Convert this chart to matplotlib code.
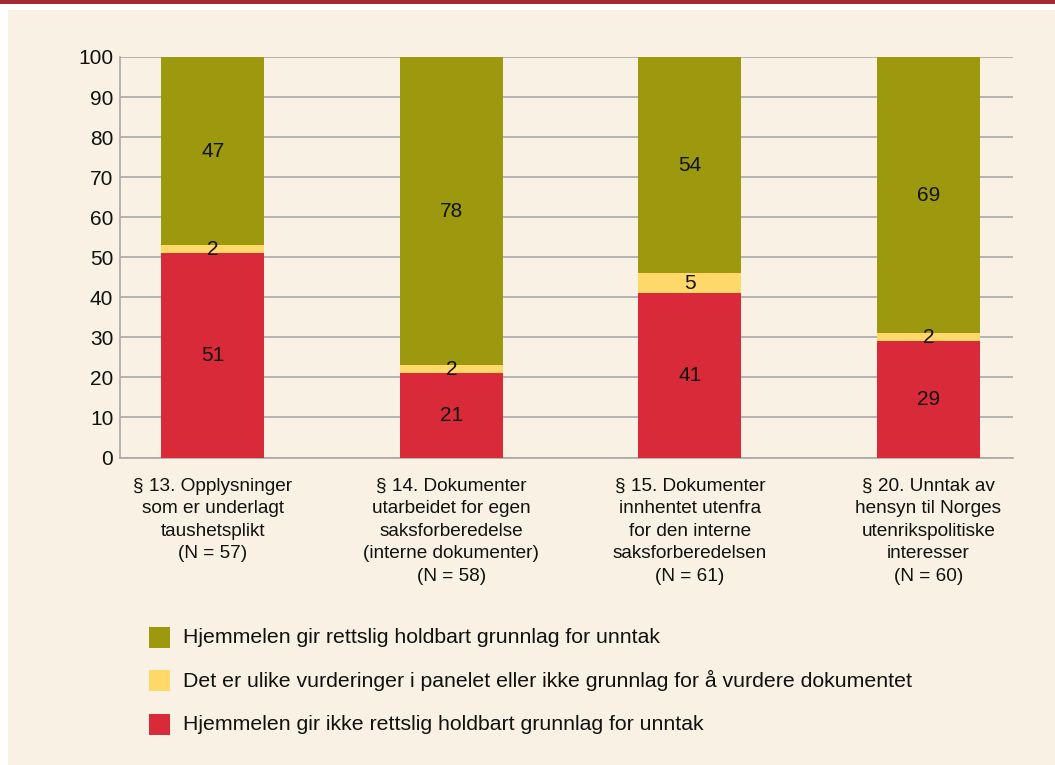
import matplotlib
matplotlib.use("Agg")
import matplotlib.pyplot as plt
from matplotlib.patches import Rectangle

plt.rcParams['font.family'] = ['Liberation Sans', 'DejaVu Sans']

categories = [
    "§ 13. Opplysninger\nsom er underlagt\ntaushetsplikt\n(N = 57)",
    "§ 14. Dokumenter\nutarbeidet for egen\nsaksforberedelse\n(interne dokumenter)\n(N = 58)",
    "§ 15. Dokumenter\ninnhentet utenfra\nfor den interne\nsaksforberedelsen\n(N = 61)",
    "§ 20. Unntak av\nhensyn til Norges\nutenrikspolitiske\ninteresser\n(N = 60)",
]
ikke_holdbart = [51, 21, 41, 29]
ulike = [2, 2, 5, 2]
holdbart = [47, 78, 54, 69]
series_labels = [
    "Hjemmelen gir rettslig holdbart grunnlag for unntak",
    "Det er ulike vurderinger i panelet eller ikke grunnlag for å vurdere dokumentet",
    "Hjemmelen gir ikke rettslig holdbart grunnlag for unntak",
]
yticks = list(range(0, 101, 10))

c_green = "#9c990e"
c_yellow = "#fed96a"
c_red = "#d92a39"
bg = "#f8f1e4"
grid_c = "#a8a8a8"

W, H = 1055, 765
fig = plt.figure(figsize=(W / 100, H / 100), dpi=100, facecolor="white")
# background panel and top band
fig.patches.append(Rectangle((8 / W, 0), 1 - 8 / W, (H - 10) / H, transform=fig.transFigure,
                             facecolor=bg, edgecolor="none", zorder=-10))
fig.patches.append(Rectangle((0, (H - 3.5) / H), 1, 3.5 / H, transform=fig.transFigure,
                             facecolor="#a12a35", edgecolor="none", zorder=-10))

ax = fig.add_axes([119.5 / W, (H - 457.5) / H, (1013 - 119.5) / W, (457.5 - 57) / H])
ax.set_facecolor("none")

x = list(range(len(categories)))
width = 0.432
b1 = ax.bar(x, ikke_holdbart, width, color=c_red, zorder=3)
bottom2 = ikke_holdbart
b2 = ax.bar(x, ulike, width, bottom=bottom2, color=c_yellow, zorder=3)
bottom3 = [a + b for a, b in zip(ikke_holdbart, ulike)]
b3 = ax.bar(x, holdbart, width, bottom=bottom3, color=c_green, zorder=3)

for bars, vals in [(b1, ikke_holdbart), (b2, ulike), (b3, holdbart)]:
    ax.bar_label(bars, labels=[str(v) for v in vals], label_type="center",
                 fontsize=15, color="#111111", zorder=5)

ax.set_ylim(0, 100)
ax.set_xlim(-0.392, 3.355)
ax.set_yticks(yticks)
ax.set_yticklabels([str(t) for t in yticks], fontsize=15, color="#111111")
ax.yaxis.grid(True, color=grid_c, linewidth=1.2, zorder=0)
ax.set_axisbelow(True)
ax.tick_params(axis="y", length=0, pad=4.5)
ax.tick_params(axis="x", length=0, pad=14.5)
ax.set_xticks(x)
ax.set_xticklabels(categories, fontsize=13.7, color="#111111", linespacing=1.43, va="top")
for s in ["top", "right"]:
    ax.spines[s].set_visible(False)
for s in ["left", "bottom"]:
    ax.spines[s].set_color(grid_c)
    ax.spines[s].set_linewidth(1.2)

# legend drawn manually in figure coords
leg_colors = [c_green, c_yellow, c_red]
leg_y = [637.5, 680.5, 724.5]
for col, lab, yc in zip(leg_colors, series_labels, leg_y):
    fig.patches.append(Rectangle((149 / W, (H - yc - 10.5) / H), 21 / W, 21 / H,
                                 transform=fig.transFigure, facecolor=col, edgecolor="none"))
    fig.text(183 / W, (H - yc) / H, lab, fontsize=15.3, color="#111111", va="center", ha="left")

fig.savefig("out.png", dpi=100, facecolor=fig.get_facecolor())
